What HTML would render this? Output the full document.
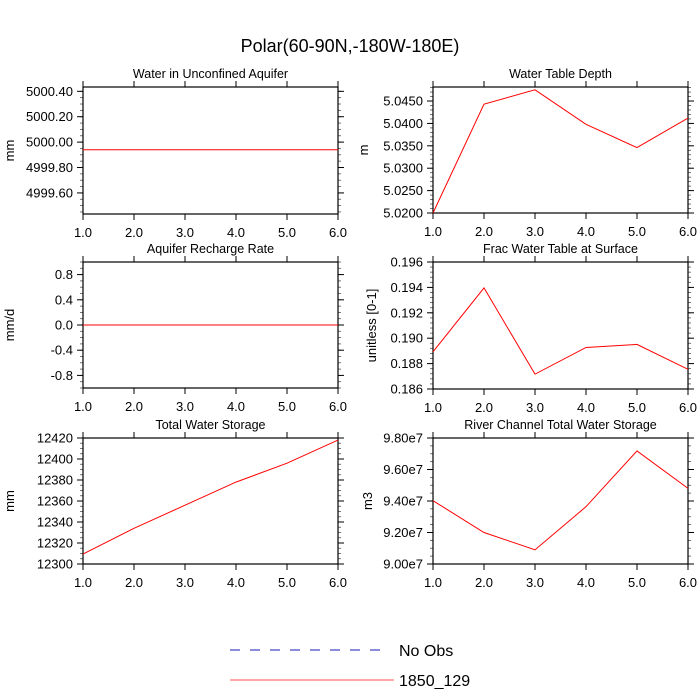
<!DOCTYPE html>
<html><head><meta charset="utf-8"><style>
body{margin:0;background:#fff;}
svg{display:block;font-family:"Liberation Sans",sans-serif;}
</style></head><body>
<svg id="c" width="700" height="700">
<text x="350" y="52" text-anchor="middle" font-size="18">Polar(60-90N,-180W-180E)</text>
<g id="p"></g>
<g>
<line x1="230" y1="650" x2="388" y2="650" stroke="#4848c8" stroke-width="1.2" stroke-dasharray="10,10"/>
<text x="399" y="656" font-size="16">No Obs</text>
<line x1="230" y1="680" x2="394" y2="680" stroke="#ff5050" stroke-width="1"/>
<text x="399" y="686" font-size="16">1850_129</text>
</g>
</svg>
<script>
const xCats=[1,2,3,4,5,6];
const xTickLabels=["1.0","2.0","3.0","4.0","5.0","6.0"];
const aquiferVals=[4999.94,4999.94,4999.94,4999.94,4999.94,4999.94];
const wtdVals=[5.0200,5.0443,5.0475,5.0398,5.0346,5.0412];
const rechargeVals=[0,0,0,0,0,0];
const fracVals=[0.18893,0.19396,0.18717,0.18927,0.18951,0.18755];
const twsVals=[12309.5,12334,12356,12378,12396,12418];
const riverVals=[9.402e7,9.20e7,9.09e7,9.364e7,9.718e7,9.48e7];
const aquiferTicks=[4999.6,4999.8,5000.0,5000.2,5000.4];
const wtdTicks=[5.020,5.025,5.030,5.035,5.040,5.045];
const rechargeTicks=[-0.8,-0.4,0,0.4,0.8];
const fracTicks=[0.186,0.188,0.190,0.192,0.194,0.196];
const twsTicks=[12300,12320,12340,12360,12380,12400,12420];
const riverTicks=[9.0e7,9.2e7,9.4e7,9.6e7,9.8e7];

const NS="http://www.w3.org/2000/svg";
const root=document.getElementById('p');
function mk(t,a,parent){const e=document.createElementNS(NS,t);for(const k in a)e.setAttribute(k,a[k]);(parent||root).appendChild(e);return e;}
const panels=[
 {name:'aquifer',title:'Water in Unconfined Aquifer',yl:'mm',x0:83,x1:338,y0:87,y1:214,ymin:4999.434,ymax:5000.434,vals:aquiferVals,ticks:aquiferTicks,fmt:v=>v.toFixed(2),minor:4,ylx:14},
 {name:'water-table-depth',title:'Water Table Depth',yl:'m',x0:433,x1:688,y0:87,y1:213,ymin:5.0200,ymax:5.04813,vals:wtdVals,ticks:wtdTicks,fmt:v=>v.toFixed(4),minor:5,ylx:368},
 {name:'recharge',title:'Aquifer Recharge Rate',yl:'mm/d',x0:83,x1:338,y0:262,y1:388,ymin:-1,ymax:1,vals:rechargeVals,ticks:rechargeTicks,fmt:v=>v.toFixed(1),minor:4,ylx:14},
 {name:'frac-water-table',title:'Frac Water Table at Surface',yl:'unitless [0-1]',x0:433,x1:688,y0:262,y1:389,ymin:0.186,ymax:0.196,vals:fracVals,ticks:fracTicks,fmt:v=>v.toFixed(3),minor:5,ylx:376},
 {name:'total-water-storage',title:'Total Water Storage',yl:'mm',x0:83,x1:338,y0:438,y1:564,ymin:12300,ymax:12420,vals:twsVals,ticks:twsTicks,fmt:v=>v.toFixed(0),minor:4,ylx:14},
 {name:'river-storage',title:'River Channel Total Water Storage',yl:'m3',x0:433,x1:688,y0:438,y1:564,ymin:9.0e7,ymax:9.8e7,vals:riverVals,ticks:riverTicks,fmt:v=>(v/1e7).toFixed(2)+'e7',minor:4,ylx:372}
];
panels.forEach(P=>{
 const g=mk('g',{});
 
 
 const xs=v=>P.x0+(v-1)/5*(P.x1-P.x0);
 const ys=v=>P.y1-(v-P.ymin)/(P.ymax-P.ymin)*(P.y1-P.y0);
 const t=mk('text',{x:(P.x0+P.x1)/2,y:P.y0-9,'text-anchor':'middle','font-size':12.5},g);t.textContent=P.title;
 
 
 const yl=mk('text',{x:P.ylx,y:(P.y0+P.y1)/2,'text-anchor':'middle','font-size':13,transform:`rotate(-90 ${P.ylx} ${(P.y0+P.y1)/2})`},g);yl.textContent=P.yl;
 
 
 xCats.forEach((c,i)=>{const x=xs(c);
  mk('line',{x1:x,x2:x,y1:P.y1,y2:P.y1+6,stroke:'#000'},g);
  mk('line',{x1:x,x2:x,y1:P.y0,y2:P.y0-6,stroke:'#000'},g);
  const l=mk('text',{x:x,y:P.y1+23,'text-anchor':'middle','font-size':13},g);l.textContent=xTickLabels[i];
  
  
 });
 const step=P.ticks[1]-P.ticks[0];
 const ms=step/P.minor;
 for(let v=P.ticks[0]-step*3;v<=P.ymax+1e-12;v+=ms){ if(v<P.ymin-1e-12)continue; const y=ys(v);
  mk('line',{x1:P.x0,x2:P.x0-3,y1:y,y2:y,stroke:'#555','stroke-width':0.8},g);
  mk('line',{x1:P.x1,x2:P.x1+3,y1:y,y2:y,stroke:'#555','stroke-width':0.8},g);}
 P.ticks.forEach(v=>{const y=ys(v);
  mk('line',{x1:P.x0,x2:P.x0-6,y1:y,y2:y,stroke:'#000'},g);
  mk('line',{x1:P.x1,x2:P.x1+6,y1:y,y2:y,stroke:'#000'},g);
  const l=mk('text',{x:P.x0-10,y:y+4.5,'text-anchor':'end','font-size':13},g);l.textContent=P.fmt(v);
  
  
 });
 mk('rect',{x:P.x0,y:P.y0,width:P.x1-P.x0,height:P.y1-P.y0,fill:'none',stroke:'#000','stroke-width':1.2},g);
 const pts=P.vals.map((v,i)=>xs(xCats[i])+','+ys(v)).join(' ');
 const ln=mk('polyline',{points:pts,fill:'none',stroke:'#ff0000','stroke-width':1},g);
 
 
});
</script>
</body></html>
